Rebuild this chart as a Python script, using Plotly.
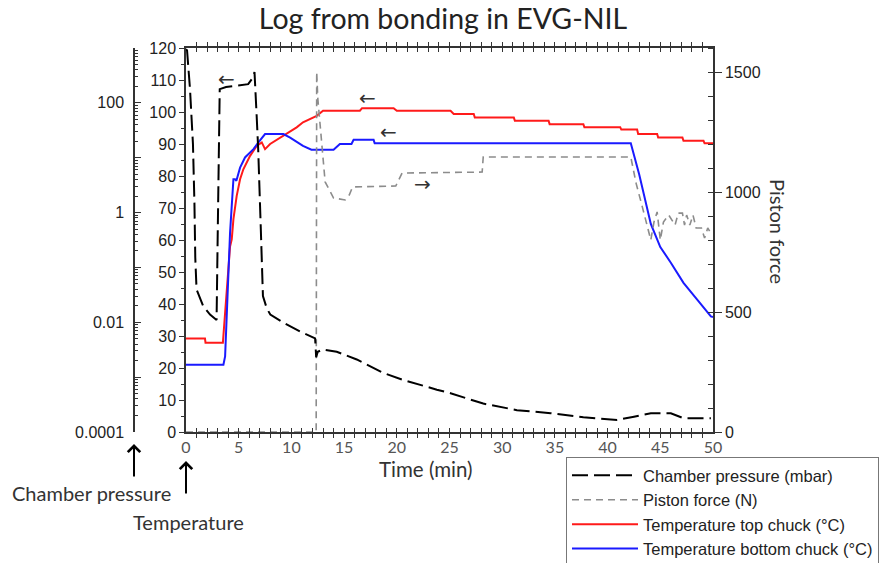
import plotly.graph_objects as go

# ---------------- data ----------------
# Chamber pressure (mbar), log axis
p_time = [0.0, 0.1, 0.38, 0.66, 0.8, 0.88, 1.0, 1.3, 1.64, 2.28, 2.75, 2.9, 3.0, 3.1, 3.2,
          3.8, 4.8, 5.9, 6.3, 6.5, 6.7, 6.85, 7.1, 7.3, 7.66, 8.0, 9.24, 10.8, 12.25, 12.35,
          12.5, 13.0, 14.3, 16.2, 18.7, 20.6, 23.8, 25.1, 27.0, 28.2, 31.4, 34.6, 37.7, 40.9,
          42.5, 44.1, 46.0, 47.2, 49.8]
p_mbar = [950, 900, 178, 17.7, 1.5, 0.15, 0.040, 0.028, 0.0195, 0.0138, 0.0115, 0.011, 0.3, 12, 178,
          195, 205, 219, 280, 363, 60, 14.3, 0.49, 0.030, 0.018, 0.0138, 0.0098, 0.0068, 0.0051, 0.0023,
          0.0029, 0.0032, 0.0029, 0.0021, 0.0012, 0.00089, 0.00059, 0.00051, 0.00039, 0.00033, 0.00025,
          0.00022, 0.000186, 0.000166, 0.00019, 0.00022, 0.00022, 0.000178, 0.000178]

# Piston force (N)
f_time = [0.0, 12.35, 12.4, 12.5, 13.2, 14.0, 15.1, 15.5, 15.8, 19.9, 20.1, 20.5, 28.1, 28.2,
          42.2, 42.7, 43.3, 43.9, 44.1, 44.4, 44.7, 45.0, 45.3, 45.8, 46.4, 46.7, 47.1, 47.3,
          47.5, 47.8, 48.1, 48.4, 48.9, 49.2, 49.5, 49.9]
f_newton = [0, 0, 1500, 1392, 1042, 975, 967, 988, 1021, 1025, 1042, 1079, 1083, 1146,
            1146, 1037, 937, 829, 800, 875, 917, 800, 875, 904, 862, 912, 912, 862,
            904, 862, 904, 850, 850, 808, 850, 821]

# Temperature top chuck (°C)
tt_time = [0, 1.8, 1.85, 3.5, 4.18, 4.34, 4.5, 4.81, 5.13, 5.44, 6.08, 6.71, 7.19, 7.5, 7.98,
           8.93, 9.88, 10.5, 11.1, 11.8, 12.4, 13.0, 16.5, 16.7, 19.7, 20.0, 25.1, 25.4, 27.3,
           27.4, 31.1, 31.2, 34.4, 34.5, 37.7, 37.8, 41.2, 41.3, 42.8, 42.9, 44.7, 44.8, 47.1,
           47.2, 49.1, 49.2, 50]
tt_temp = [29.2, 29.2, 27.9, 27.9, 58, 60.2, 66.5, 73.8, 79, 82.1, 86.3, 89.4, 90.5, 88.4, 90,
           92, 94.1, 95.2, 96.8, 97.8, 98.8, 100.4, 100.4, 101.2, 101.2, 100.4, 100.4, 99.4, 99.4,
           98.3, 98.3, 97.3, 97.3, 96.2, 96.2, 95.2, 95.2, 94.5, 94.5, 93.1, 93.1, 92.0, 92.0,
           91.0, 91.0, 90.2, 90.2]

# Temperature bottom chuck (°C)
tb_time = [0, 3.55, 3.71, 4.18, 4.5, 4.65, 4.78, 5.13, 5.6, 6.4, 6.87, 7.5, 9.24, 9.88, 11.1,
           11.9, 14.0, 14.6, 15.7, 15.9, 17.8, 17.9, 42.2, 43.0, 44.1, 45.0, 46.0, 47.2, 48.5,
           49.8, 50]
tb_temp = [21.0, 21.0, 23.6, 62.3, 79, 79, 78.5, 82.6, 85.8, 88.4, 90.5, 93.1, 93.1, 92, 89.4,
           88.2, 88.2, 90, 90, 91.3, 91.3, 90.2, 90.2, 80.5, 65, 57.8, 52.9, 46.6, 41.4,
           36.1, 35.9]

x_ticks = list(range(0, 51))
x_ticktext = [str(v) if v % 5 == 0 else "" for v in x_ticks]
temp_ticks = list(range(0, 121, 10))
force_ticks = [0, 500, 1000, 1500]
p_ticks = [1e-4, 1e-3, 1e-2, 1e-1, 1, 10, 100, 1000]
p_ticktext = ["0.0001", "", "0.01", "", "1", "", "100", ""]
p_minor = [k * 10.0 ** d for d in range(-4, 3) for k in range(2, 10)]

# ---------------- layout helpers ----------------
W, H = 889, 563
ML, MR, MT, MB = 120, 176, 48, 131
PW = W - ML - MR
PH = H - MT - MB


def px2x(px):
    return (px - ML) / PW


def py2y(py):
    return (H - MB - py) / PH


AX = "#333333"
fig = go.Figure()

fig.add_trace(go.Scatter(x=p_time, y=p_mbar, yaxis="y3", mode="lines",
                         name="Chamber pressure (mbar)",
                         line=dict(color="black", width=2, dash="16px,6px")))
fig.add_trace(go.Scatter(x=f_time, y=f_newton, yaxis="y2", mode="lines",
                         name="Piston force (N)",
                         line=dict(color="#8c8c8c", width=1.6, dash="7px,5px")))
fig.add_trace(go.Scatter(x=tt_time, y=tt_temp, yaxis="y", mode="lines",
                         name="Temperature top chuck (°C)",
                         line=dict(color="#ff1a1a", width=2)))
fig.add_trace(go.Scatter(x=tb_time, y=tb_temp, yaxis="y", mode="lines",
                         name="Temperature bottom chuck (°C)",
                         line=dict(color="#1a1aff", width=2)))

tickfont = dict(family="Liberation Sans, Arial", size=16, color="#222")

fig.update_layout(
    width=W, height=H,
    margin=dict(l=ML, r=MR, t=MT, b=MB, autoexpand=False),
    paper_bgcolor="white", plot_bgcolor="white",
    title=dict(text="Log from bonding in EVG-NIL", x=443 / W, xref="container", xanchor="center",
               y=1 - 19 / H, yref="container", yanchor="middle",
               font=dict(family="Lato, sans-serif", size=28.5, color="#222")),
    xaxis=dict(domain=[px2x(186), 1.0], range=[0, 50], showgrid=False, zeroline=False,
               showline=True, linecolor=AX, linewidth=1.5, mirror="allticks",
               tickmode="array", tickvals=x_ticks, ticktext=x_ticktext,
               ticks="inside", ticklen=4, tickcolor=AX, tickwidth=1,
               tickfont=dict(family="Lato, sans-serif", size=16, color="#555")),
    yaxis=dict(range=[0, 120], showgrid=False, zeroline=False, showline=True,
               linecolor=AX, linewidth=1.5, tickmode="array", tickvals=temp_ticks,
               ticks="outside", ticklen=5, tickcolor=AX, tickfont=tickfont,
               minor=dict(dtick=5, ticks="outside", ticklen=3, tickcolor=AX)),
    yaxis2=dict(range=[0, 1600], overlaying="y", side="right", anchor="x",
                showgrid=False, zeroline=False, showline=True, linecolor=AX, linewidth=1.5,
                tickmode="array", tickvals=force_ticks, ticks="outside", ticklen=7,
                tickcolor=AX, tickfont=tickfont,
                minor=dict(dtick=100, ticks="inside", ticklen=5, tickcolor=AX)),
    yaxis3=dict(type="log", range=[-4, 3], overlaying="y", side="left", anchor="free",
                position=px2x(134), showgrid=False, zeroline=False, showline=True,
                linecolor=AX, linewidth=1.5, tickmode="array", tickvals=p_ticks,
                ticktext=p_ticktext, ticks="inside", ticklen=6, tickcolor=AX,
                ticklabelstandoff=6, tickfont=tickfont,
                minor=dict(tickvals=p_minor, ticks="inside", ticklen=3, tickcolor=AX)),
    legend=dict(x=px2x(566), y=py2y(457), xanchor="left", yanchor="top",
                bgcolor="white", bordercolor="#777", borderwidth=1,
                font=dict(family="Liberation Sans, Arial", size=16.5, color="#222"),
                itemwidth=66, tracegroupgap=0),
    showlegend=True,
)

arrow_font = dict(family="DejaVu Sans", size=20, color="#333")
for t, T, s in [(3.87, 110.3, "←"), (17.2, 104.4, "←"), (19.2, 93.7, "←"), (22.4, 77.4, "→")]:
    fig.add_annotation(x=t, y=T, xref="x", yref="y", text=s, showarrow=False, font=arrow_font)

label_font = dict(family="Lato, sans-serif", size=20, color="#333")
fig.add_annotation(x=px2x(426), y=py2y(469), xref="paper", yref="paper", xanchor="center",
                   yanchor="middle", text="Time (min)", showarrow=False,
                   font=dict(family="Lato, sans-serif", size=20.5, color="#333"))
fig.add_annotation(x=px2x(134), y=py2y(444), xref="paper", yref="paper", text="",
                   showarrow=True, ax=0, ay=34, arrowhead=4, arrowwidth=2, arrowsize=1.2,
                   arrowcolor="black", standoff=0)
fig.add_annotation(x=px2x(91), y=py2y(493), xref="paper", yref="paper", xanchor="center",
                   yanchor="middle", text="Chamber pressure", showarrow=False, font=label_font)
fig.add_annotation(x=px2x(186), y=py2y(461), xref="paper", yref="paper", text="",
                   showarrow=True, ax=0, ay=34, arrowhead=4, arrowwidth=2, arrowsize=1.2,
                   arrowcolor="black", standoff=0)
fig.add_annotation(x=px2x(188), y=py2y(522), xref="paper", yref="paper", xanchor="center",
                   yanchor="middle", text="Temperature", showarrow=False, font=label_font)
fig.add_annotation(x=px2x(778), y=py2y(231), xref="paper", yref="paper", xanchor="center",
                   yanchor="middle", text="Piston force", textangle=90, showarrow=False,
                   font=label_font)

fig.write_html("out.html")
